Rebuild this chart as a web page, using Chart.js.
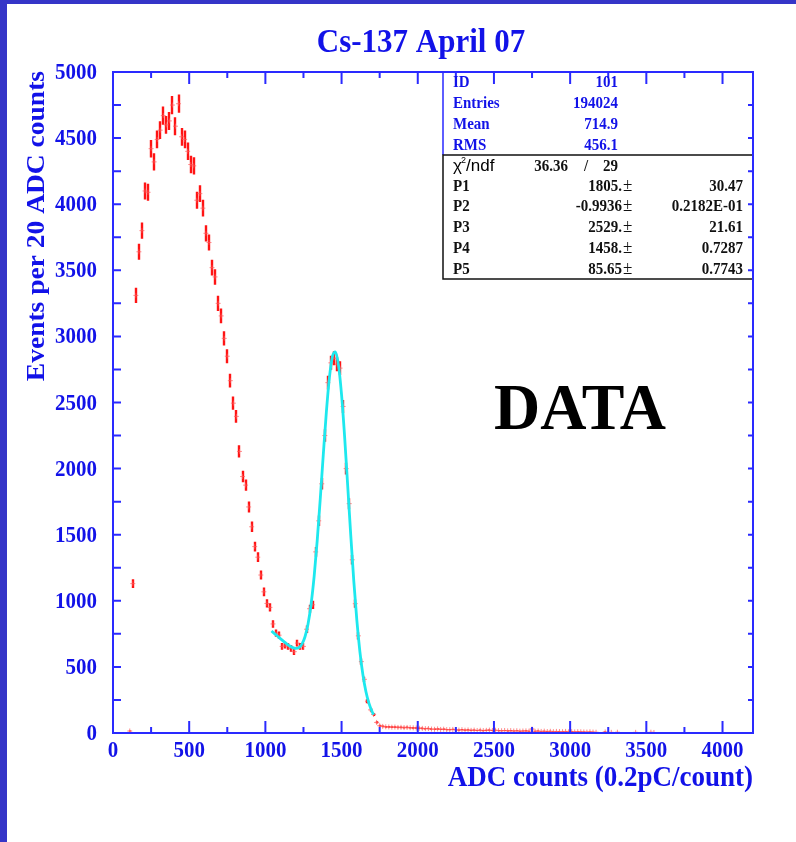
<!DOCTYPE html>
<html><head><meta charset="utf-8">
<script src="https://cdn.jsdelivr.net/npm/chart.js@4.4.1/dist/chart.umd.min.js"></script>
<style>html,body{margin:0;padding:0;background:#fff;overflow:hidden}canvas{display:block}</style>
</head><body><canvas id="c" width="796" height="842"></canvas>
<script>
// ---- data ----
const adcBins = [110,130,150,170,190,210,230,250,270,290,310,330,350,370,390,410,430,450,470,490,
  510,530,550,570,590,610,630,650,670,690,710,730,750,770,790,810,830,850,870,890,
  910,930,950,970,990,1010,1030,1050,1070,1090,1110,1130,1150,1170,1190,1210,1230,1250,1270,1290,
  1310,1330,1350,1370,1390,1410,1430,1450,1470,1490,1510,1530,1550,1570,1590,1610,1630,1650,1670,1690,
  1710,1730,1750,1770,1790,1810,1830,1850,1870,1890,1910,1930,1950,1970,1990,2010,2030,2050,2070,2090,
  2110,2130,2150,2170,2190,2210,2230,2250,2270,2290,2310,2330,2350,2370,2390,2410,2430,2450,2470,2490,
  2510,2530,2550,2570,2590,2610,2630,2650,2670,2690,2710,2730,2750,2770,2790,2810,2830,2850,2870,2890,
  2910,2930,2950,2970,2990,3010,3030,3050,3070,3090,3110,3130,3150,3170,3230,3270,3310,3430,3530,3550];
const events = [15,1130,3310,3640,3800,4100,4090,4420,4320,4490,4560,4670,4600,4630,4750,4590,4760,4510,4490,4400,
  4300,4290,4030,4080,3970,3780,3710,3520,3450,3250,3155,2985,2850,2665,2495,2395,2130,1940,1875,1710,
  1560,1410,1330,1195,1068,980,950,825,755,740,655,665,655,640,615,680,655,655,785,940,
  970,1370,1605,1885,2250,2650,2800,2835,2790,2760,2470,2000,1735,1310,978,735,540,406,240,175,
  140,80,55,50,47,46,44,45,42,43,41,42,40,39,38,36,35,33,34,30,
  28,31,27,29,26,25,27,24,22,25,21,23,20,22,19,21,18,20,22,19,
  21,18,17,19,16,18,15,17,14,15,16,14,30,13,15,12,14,11,13,10,
  12,11,10,12,9,10,8,10,9,8,7,9,7,6,8,5,6,5,6,4];
const fitAdc = [1040,1060,1080,1100,1120,1140,1160,1180,1200,1220,1240,1260,1280,1300,1320,1340,1360,1380,1400,1420,
  1440,1460,1480,1500,1520,1540,1560,1580,1600,1620,1640,1660,1680,1700,1710];
const fitEvents = [772,752,732,712,693,675,658,646,640,646,672,728,825,974,1184,1453,1768,2105,2425,2686,
  2848,2883,2781,2557,2241,1874,1500,1152,855,618,440,312,224,163,139];
const xTickValues = [0,500,1000,1500,2000,2500,3000,3500,4000];
const xTickLabels = ['0','500','1000','1500','2000','2500','3000','3500','4000'];
const xMinorValues = [250,750,1250,1750,2250,2750,3250,3750];
const yTickValues = [0,500,1000,1500,2000,2500,3000,3500,4000,4500,5000];
const yTickLabels = ['0','500','1000','1500','2000','2500','3000','3500','4000','4500','5000'];
const yMinorValues = [250,750,1250,1750,2250,2750,3250,3750,4250,4750];
const titleText = 'Cs-137 April 07';
const xTitle = 'ADC counts (0.2pC/count)';
const yTitle = 'Events per 20 ADC counts';
const statNames = ['ID','Entries','Mean','RMS'];
const statValues = ['101','194024','714.9','456.1'];
const chi2 = '36.36', ndf = '29';
const parNames = ['P1','P2','P3','P4','P5'];
const parValues = ['1805.','-0.9936','2529.','1458.','85.65'];
const parErrors = ['30.47','0.2182E-01','21.61','0.7287','0.7743'];
const bigLabel = 'DATA';

// ---- styling ----
const SERIF = '"Liberation Serif","Times New Roman",serif';
const SANS = '"Liberation Sans","DejaVu Sans",sans-serif';
const AXIS = '#2a2aff';
const BLUE_TXT = '#1212e8';
const STRIPE = '#3535c8';

function txt(ctx, s, x, y, o) {
  ctx.save();
  ctx.translate(x, y);
  if (o.rot) ctx.rotate(o.rot);
  ctx.scale(o.sx || 1, o.sy || 1);
  ctx.font = (o.weight || 'bold') + ' ' + o.size + 'px ' + (o.family || SERIF);
  ctx.textAlign = o.align || 'left';
  ctx.textBaseline = o.base || 'alphabetic';
  ctx.fillStyle = o.color || '#000';
  ctx.fillText(s, 0, 0);
  ctx.restore();
}

const rootPlugin = {
  id: 'rootStyle',
  beforeDraw(chart) {
    const ctx = chart.ctx;
    ctx.save();
    ctx.fillStyle = '#fff';
    ctx.fillRect(0, 0, chart.width, chart.height);
    ctx.fillStyle = STRIPE;
    ctx.fillRect(0, 0, 7, chart.height);
    ctx.fillRect(0, 0, chart.width, 4);
    ctx.restore();
  },
  beforeDatasetsDraw(chart) {
    const ctx = chart.ctx, xs = chart.scales.x, ys = chart.scales.y, a = chart.chartArea;
    ctx.save();
    ctx.beginPath();
    ctx.rect(a.left, a.top, a.right - a.left, a.bottom - a.top);
    ctx.clip();
    ctx.strokeStyle = '#ff1414';
    ctx.lineWidth = 2.4;
    ctx.beginPath();
    adcBins.forEach((b, i) => {
      const v = events[i], e = Math.sqrt(v);
      const px = Math.round(xs.getPixelForValue(b));
      ctx.moveTo(px, ys.getPixelForValue(v + e));
      ctx.lineTo(px, ys.getPixelForValue(Math.max(v - e, 0)));
    });
    ctx.stroke();
    ctx.restore();
  },
  afterDatasetsDraw(chart) {
    const ctx = chart.ctx, xs = chart.scales.x, ys = chart.scales.y, a = chart.chartArea;
    ctx.save();
    // frame
    ctx.strokeStyle = AXIS;
    ctx.lineWidth = 2;
    ctx.strokeRect(a.left, a.top, a.right - a.left, a.bottom - a.top);
    // ticks
    ctx.lineWidth = 2;
    ctx.beginPath();
    xTickValues.forEach(v => {
      const p = xs.getPixelForValue(v);
      ctx.moveTo(p, a.bottom); ctx.lineTo(p, a.bottom - 12);
      ctx.moveTo(p, a.top); ctx.lineTo(p, a.top + 12);
    });
    xMinorValues.forEach(v => {
      const p = xs.getPixelForValue(v);
      ctx.moveTo(p, a.bottom); ctx.lineTo(p, a.bottom - 6);
      ctx.moveTo(p, a.top); ctx.lineTo(p, a.top + 6);
    });
    yTickValues.concat(yMinorValues).forEach(v => {
      const p = ys.getPixelForValue(v);
      ctx.moveTo(a.left, p); ctx.lineTo(a.left + 8, p);
      ctx.moveTo(a.right, p); ctx.lineTo(a.right - 5, p);
    });
    ctx.stroke();
    // tick labels
    xTickValues.forEach((v, i) => {
      txt(ctx, xTickLabels[i], xs.getPixelForValue(v), a.bottom + 24, {size: 21, sy: 1.05, align: 'center', color: BLUE_TXT});
    });
    yTickValues.forEach((v, i) => {
      txt(ctx, yTickLabels[i], 97, ys.getPixelForValue(v) + 7, {size: 21, sy: 1.05, align: 'right', color: BLUE_TXT});
    });
    // titles
    txt(ctx, titleText, 421, 52, {size: 31, sy: 1.1, align: 'center', color: BLUE_TXT});
    txt(ctx, xTitle, a.right, 786, {size: 27, sy: 1.1, align: 'right', color: BLUE_TXT});
    txt(ctx, yTitle, 44, a.top - 1, {size: 25, sx: 1.1, rot: -Math.PI / 2, align: 'right', color: BLUE_TXT});
    // stats box
    const bx = 443, bTop = a.top, bMid = 155, bBot = 279, bR = a.right;
    ctx.fillStyle = '#fff';
    ctx.fillRect(bx, bTop, bR - bx, bBot - bTop);
    ctx.lineWidth = 1.5;
    ctx.strokeStyle = AXIS;
    ctx.beginPath();
    ctx.moveTo(bx, bMid); ctx.lineTo(bx, bTop); ctx.lineTo(bR, bTop); ctx.lineTo(bR, bMid);
    ctx.stroke();
    ctx.strokeStyle = '#111';
    ctx.strokeRect(bx, bMid, bR - bx, bBot - bMid);
    // redraw frame pieces over the box
    ctx.strokeStyle = AXIS; ctx.lineWidth = 2;
    ctx.beginPath(); ctx.moveTo(bx, a.top); ctx.lineTo(a.right, a.top); ctx.moveTo(a.right, a.top); ctx.lineTo(a.right, bBot + 2); ctx.stroke();
    ctx.beginPath();
    xTickValues.concat(xMinorValues).forEach(v => {
      const p = xs.getPixelForValue(v);
      if (p > bx && p < bR) { const L = xTickValues.includes(v) ? 12 : 6; ctx.moveTo(p, a.top); ctx.lineTo(p, a.top + L); }
    });
    yTickValues.concat(yMinorValues).forEach(v => {
      const p = ys.getPixelForValue(v);
      if (p > bTop && p < bBot) { ctx.moveTo(a.right, p); ctx.lineTo(a.right - 5, p); }
    });
    ctx.stroke();
    const rowY = [87, 108, 129, 150];
    statNames.forEach((n, i) => {
      txt(ctx, n, 453, rowY[i], {size: 15, sy: 1.1, color: BLUE_TXT});
      txt(ctx, statValues[i], 618, rowY[i], {size: 15, sy: 1.1, align: 'right', color: BLUE_TXT});
    });
    // chi2/ndf
    txt(ctx, '\u03C7', 453, 171, {size: 17, weight: 'normal', family: SANS, color: '#000'});
    txt(ctx, '2', 461, 163, {size: 9, weight: 'normal', family: SANS, color: '#000'});
    txt(ctx, '/ndf', 466, 171, {size: 17, weight: 'normal', family: SANS, color: '#000'});
    txt(ctx, chi2, 568, 171, {size: 15, sy: 1.1, align: 'right', color: '#111'});
    txt(ctx, '/', 586, 171, {size: 15, sy: 1.1, align: 'center', color: '#111'});
    txt(ctx, ndf, 618, 171, {size: 15, sy: 1.1, align: 'right', color: '#111'});
    const pY = [191, 211, 232, 253, 274];
    parNames.forEach((n, i) => {
      txt(ctx, n, 453, pY[i], {size: 15, sy: 1.1, color: '#111'});
      txt(ctx, parValues[i], 622, pY[i], {size: 15, sy: 1.1, align: 'right', color: '#111'});
      txt(ctx, '\u00B1', 623, pY[i], {size: 17, weight: 'normal', sy: 1.1, color: '#111'});
      txt(ctx, parErrors[i], 743, pY[i], {size: 15, sy: 1.1, align: 'right', color: '#111'});
    });
    // big label
    txt(ctx, bigLabel, 580, 429, {size: 64, sy: 1.03, align: 'center', color: '#000'});
    ctx.restore();
  }
};

new Chart(document.getElementById('c'), {
  type: 'scatter',
  data: {
    datasets: [
      {
        type: 'line',
        label: 'fit',
        data: fitAdc.map((x, i) => ({x: x, y: fitEvents[i]})),
        borderColor: '#1ee8ee',
        borderWidth: 2.8,
        pointRadius: 0,
        cubicInterpolationMode: 'monotone',
        fill: false,
        order: 0
      },
      {
        label: 'data',
        data: adcBins.map((x, i) => ({x: x, y: events[i]})),
        pointStyle: 'cross',
        pointRadius: 2.5,
        borderColor: 'rgba(255,90,90,0.7)',
        backgroundColor: 'rgba(255,90,90,0.7)',
        borderWidth: 1,
        order: 1
      }
    ]
  },
  options: {
    responsive: false,
    animation: false,
    devicePixelRatio: 1,
    layout: {padding: {left: 113, right: 43, top: 72, bottom: 109}},
    scales: {
      x: {type: 'linear', min: 0, max: 4200, display: false},
      y: {type: 'linear', min: 0, max: 5000, display: false}
    },
    plugins: {legend: {display: false}, tooltip: {enabled: false}}
  },
  plugins: [rootPlugin]
});
</script>
</body></html>
